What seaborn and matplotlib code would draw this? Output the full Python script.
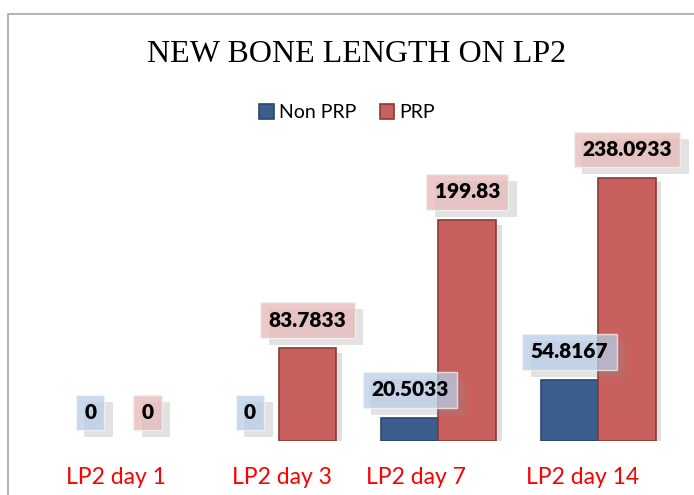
import matplotlib
matplotlib.use("Agg")
import matplotlib.pyplot as plt
import matplotlib.patheffects as pe
from matplotlib.patches import Rectangle
from matplotlib.transforms import ScaledTranslation
import seaborn as sns
import pandas as pd

categories = ["LP2 day 1", "LP2 day 3", "LP2 day 7", "LP2 day 14"]
series_names = ["Non PRP", "PRP"]
non_prp = [0, 0, 20.5033, 54.8167]
prp = [0, 83.7833, 199.83, 238.0933]
title = "NEW BONE LENGTH ON LP2"

df = pd.DataFrame({
    "category": categories * 2,
    "group": [series_names[0]] * len(categories) + [series_names[1]] * len(categories),
    "value": non_prp + prp,
})

sns.set_style("white")
plt.rcParams["font.family"] = ["Lato", "DejaVu Sans"]
plt.rcParams["text.color"] = "black"

face = {"Non PRP": "#3b5e8c", "PRP": "#c8605e"}
edge = {"Non PRP": "#2a4670", "PRP": "#8a3a38"}
box = {"Non PRP": "#b9cde5", "PRP": "#e6b9b8"}


def fmt(v):
    return "{:.4f}".format(v).rstrip("0").rstrip(".")


fig = plt.figure(figsize=(6.94, 4.95), dpi=100)
ax = fig.add_axes([0.0562, 0.1091, 0.921, 0.580])

sns.barplot(data=df, x="category", y="value", hue="group", order=categories,
            hue_order=series_names, palette=face, width=0.72, ax=ax,
            legend=False, saturation=1)

for cont, name in zip(ax.containers, series_names):
    for p in cont:
        h = p.get_height()
        p.set_edgecolor(edge[name])
        p.set_linewidth(1.2 if h > 0 else 0)
        p.set_path_effects([pe.SimplePatchShadow(offset=(4, -3), alpha=0.15),
                            pe.Normal()])
        xc = p.get_x() + p.get_width() / 2
        t = ax.annotate(fmt(h), (xc, h), xytext=(0, 20.5), textcoords="offset points",
                        ha="center", va="center", fontsize=15, fontweight="heavy",
                        color="black", zorder=5, annotation_clip=False,
                        bbox=dict(boxstyle="square,pad=0.4", facecolor=box[name],
                                  edgecolor="#f4f4f4", linewidth=1, alpha=0.75))
        t.get_bbox_patch().set_path_effects(
            [pe.SimplePatchShadow(offset=(6, -5), shadow_rgbFace="#8c8c8c", alpha=0.25),
             pe.Normal()])

ax.set_ylim(0, 260)
ax.set_xlim(-0.5, 3.5)
ax.set_xlabel("")
ax.set_ylabel("")
ax.set_yticks([])
for s in ax.spines.values():
    s.set_visible(False)
ax.tick_params(axis="x", length=0, pad=19, labelsize=16.5, labelcolor="#ff0000")

label_shift = [-2, 2, -16, -11]
for lab, dx in zip(ax.get_xticklabels(), label_shift):
    lab.set_transform(lab.get_transform() + ScaledTranslation(dx / 72, 0, fig.dpi_scale_trans))

fig.text(0.514, 0.889, title, ha="center", va="center", fontsize=23, color="black",
         family=["Liberation Serif", "DejaVu Serif"])

handles = [Rectangle((0, 0), 1, 1, facecolor=face[n], edgecolor=edge[n], lw=1.2)
           for n in series_names]
fig.legend(handles, series_names, loc="center", bbox_to_anchor=(0.5, 0.772),
           ncol=2, frameon=False, fontsize=14, handlelength=0.75,
           handleheight=0.75, handletextpad=0.25, columnspacing=1.2)

fig.patches.append(Rectangle((8 / 694, -0.1), 1.2, 1 - 14 / 495 + 0.1,
                             transform=fig.transFigure, fill=False,
                             edgecolor="#a6a6a6", linewidth=1.2))

fig.savefig("out.png", dpi=100)
